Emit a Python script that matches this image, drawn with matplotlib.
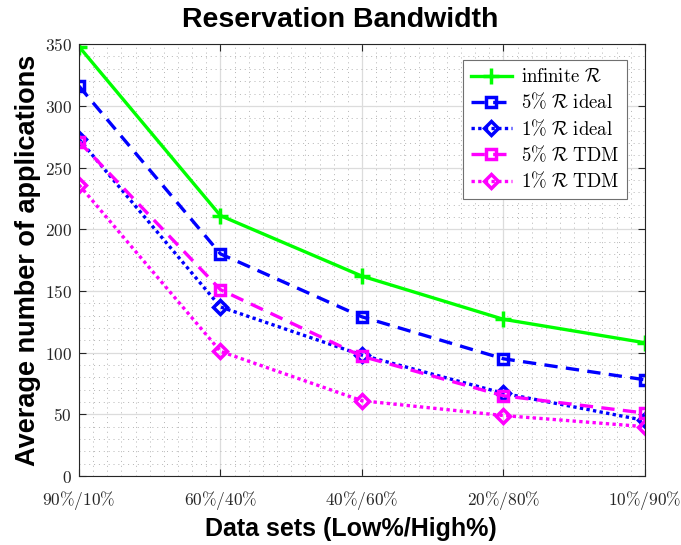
import numpy as np
import matplotlib
matplotlib.use('Agg')
import matplotlib.pyplot as plt
from matplotlib.ticker import MultipleLocator

plt.rcParams['mathtext.fontset'] = 'cm'

# data sets on the x axis
datasets = ['90\\%/10\\%', '60\\%/40\\%', '40\\%/60\\%', '20\\%/80\\%', '10\\%/90\\%']

# average number of applications per data set
infinite_r = [348, 211, 162, 127, 108]
r5_ideal = [316, 180, 129, 95, 78]
r1_ideal = [273, 137, 98, 67, 45]
r5_tdm = [271, 151, 97, 65, 51]
r1_tdm = [236, 101, 61, 49, 40]

labels = [r'$\mathrm{infinite}\ \mathcal{R}$',
          r'$5\%\ \mathcal{R}\ \mathrm{ideal}$',
          r'$1\%\ \mathcal{R}\ \mathrm{ideal}$',
          r'$5\%\ \mathcal{R}\ \mathrm{TDM}$',
          r'$1\%\ \mathcal{R}\ \mathrm{TDM}$']

x = np.arange(1, len(datasets) + 1)

fig = plt.figure(figsize=(6.81, 5.45), dpi=100)
ax = fig.add_axes([0.116, 0.1266, 0.831, 0.7924])

lw = 2.4
ax.plot(x, infinite_r, '-', color='#00ff00', lw=lw, marker='+', ms=12, mew=2.5, label=labels[0])
ax.plot(x, r5_ideal, '--', color='#0000ff', lw=lw, marker='s', ms=7.5, mew=2.5, mfc='none', label=labels[1],
        dashes=(4, 2.5))
ax.plot(x, r1_ideal, ':', color='#0000ff', lw=lw, marker='D', ms=7.5, mew=2.5, mfc='none', label=labels[2],
        dashes=(1, 1))
ax.plot(x, r5_tdm, '--', color='#ff00ff', lw=lw, marker='s', ms=7.5, mew=2.5, mfc='none', label=labels[3],
        dashes=(4, 2.5))
ax.plot(x, r1_tdm, ':', color='#ff00ff', lw=lw, marker='D', ms=7.5, mew=2.5, mfc='none', label=labels[4],
        dashes=(1, 1))

ax.set_xlim(1, 5)
ax.set_ylim(0, 350)
ax.set_xticks(x)
ax.set_xticklabels(['$' + d + '$' for d in datasets])
ax.set_yticks(np.arange(0, 351, 50))
ax.set_yticklabels(['$%d$' % v for v in np.arange(0, 351, 50)])
ax.xaxis.set_minor_locator(MultipleLocator(0.1))
ax.yaxis.set_minor_locator(MultipleLocator(10))

ax.grid(True, which='major', color='#dcdcdc', lw=0.9, ls='-')
ax.grid(True, which='minor', color='#b4b4b4', lw=0.7, ls=(0, (1, 4)))
ax.set_axisbelow(True)

ax.tick_params(which='major', direction='in', length=5, width=0.8, colors='#262626',
               labelsize=12.5, top=True, right=True)
ax.tick_params(axis='x', which='major', pad=9)
ax.tick_params(axis='y', which='major', pad=5)
ax.tick_params(which='minor', length=0)
for s in ax.spines.values():
    s.set_color('#262626')
    s.set_linewidth(0.8)

fig.suptitle('Reservation Bandwidth', x=0.5, y=0.987, fontsize=20.5, fontweight='bold',
             family='Liberation Sans')
ax.set_xlabel('Data sets (Low%/High%)', fontsize=18, fontweight='bold',
              family='Liberation Sans')
ax.xaxis.set_label_coords(0.48, -0.095)
ax.set_ylabel('Average number of applications', fontsize=19.5, fontweight='bold',
              family='Liberation Sans', labelpad=3)

leg = ax.legend(loc='upper right', bbox_to_anchor=(0.985, 0.985), fontsize=13.5,
                fancybox=False, framealpha=1, edgecolor='#707070',
                handlelength=2.2, labelspacing=0.3, borderpad=0.4, handletextpad=0.5)
leg.get_frame().set_linewidth(0.8)

plt.savefig('out.png', dpi=100)
